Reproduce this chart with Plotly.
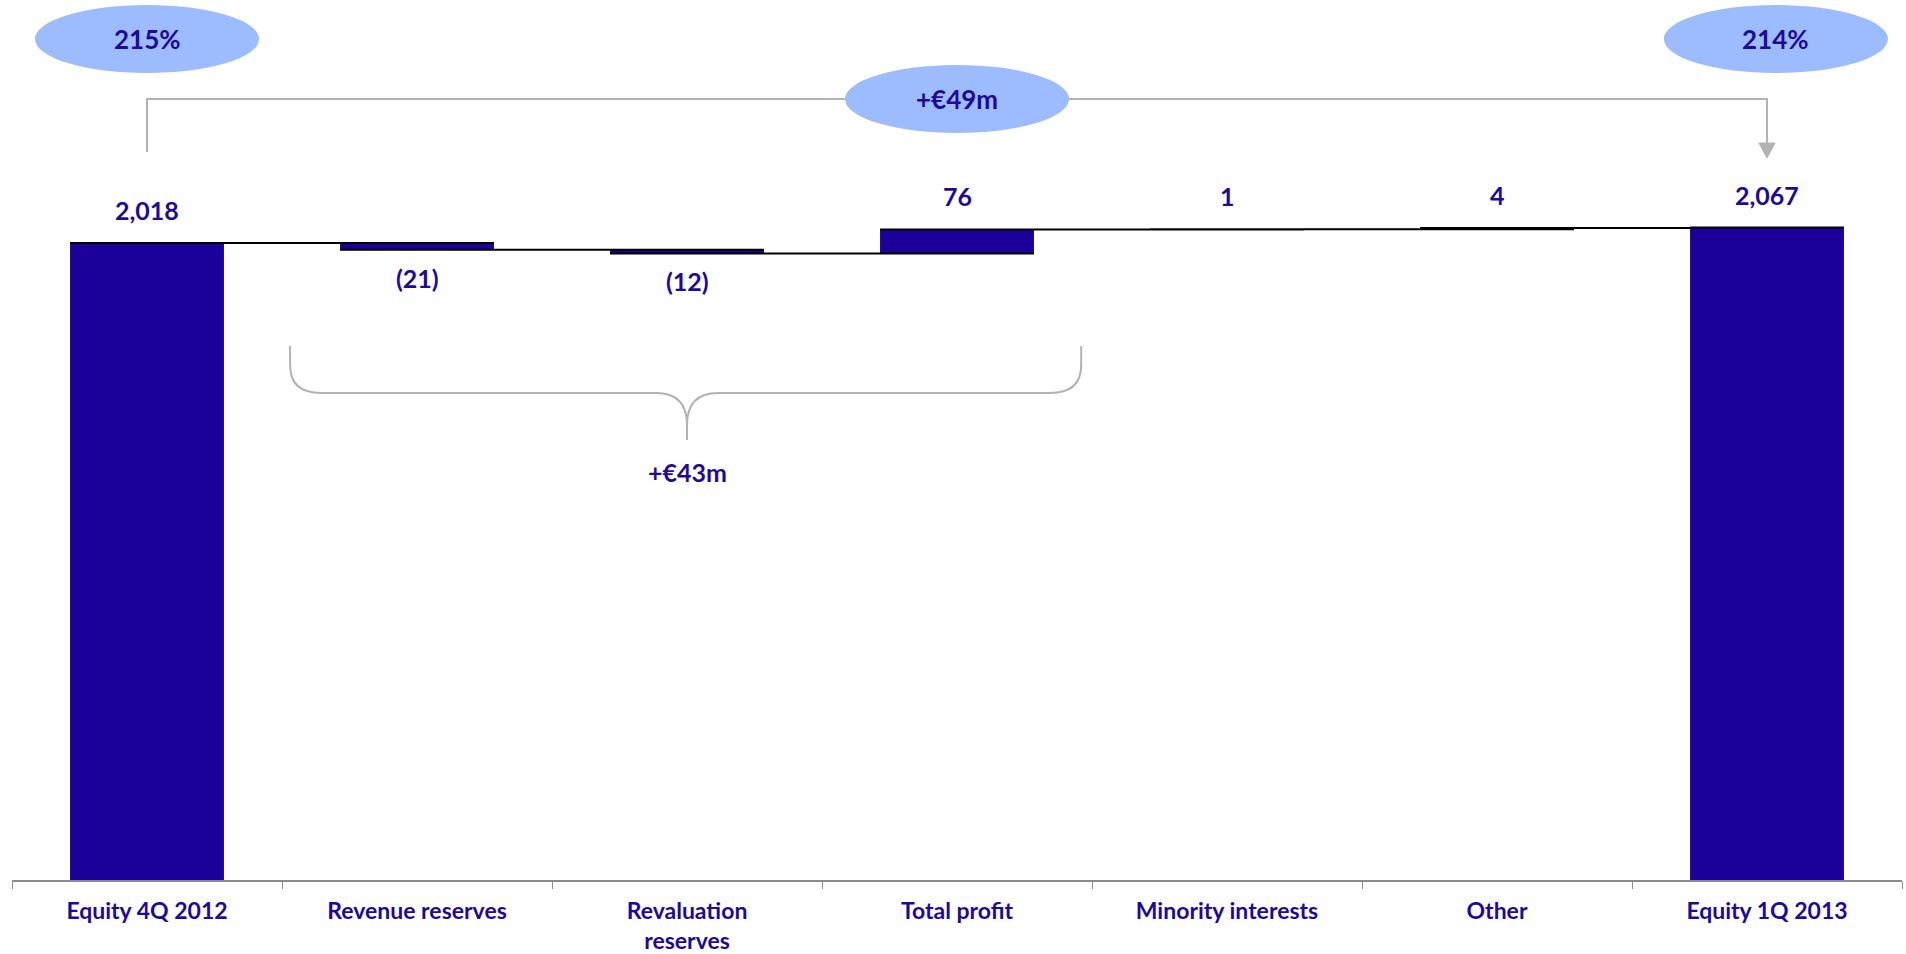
import plotly.graph_objects as go

# Equity bridge 4Q 2012 -> 1Q 2013 (EUR m)
categories = ["Equity 4Q 2012", "Revenue reserves", "Revaluation<br>reserves",
              "Total profit", "Minority interests", "Other", "Equity 1Q 2013"]
values = [2018, -21, -12, 76, 1, 4, 2067]
measures = ["absolute", "relative", "relative", "relative", "relative", "relative", "absolute"]
ratio_labels = ["215%", "214%"]
bridge_label = "+€49m"
brace_label = "+€43m"

BAR = "#1C0099"
TEXT = "#1E0A96"
BUBBLE = "#9DBBFF"
GREY = "#B3B3B3"
FONT = "Lato, 'Open Sans', sans-serif"

W, H = 1906, 954
M_L, M_R, M_T, M_B = 12, 4, 0, 74
PLOT_H = H - M_T - M_B
N = len(categories)


def fmt(v, measure):
    if measure == "relative" and v < 0:
        return f"({-v:,})"
    return f"{v:,}"


def xp(i):
    """category index -> paper x"""
    return (i + 0.5) / N


def yp(px):
    """pixels from top of plot area -> paper y"""
    return 1 - px / PLOT_H


fig = go.Figure(go.Waterfall(
    x=categories,
    y=values,
    measure=measures,
    increasing=dict(marker=dict(color=BAR)),
    decreasing=dict(marker=dict(color=BAR)),
    totals=dict(marker=dict(color=BAR)),
    connector=dict(mode="spanning", line=dict(color="#000000", width=2)),
    hoverinfo="skip",
))

# value labels at the end of each bar
annotations = []
running = 0
for i, (v, m) in enumerate(zip(values, measures)):
    if m == "absolute":
        running = v
        shift = 33
    else:
        running += v
        shift = 33 if v >= 0 else -28
    annotations.append(dict(
        x=i, y=running, xref="x", yref="y", text=f"<b>{fmt(v, m)}</b>",
        showarrow=False, yshift=shift, xanchor="center", yanchor="middle",
        font=dict(family=FONT, size=25, color=TEXT),
    ))

shapes = []

# bridge line from first to last bar with an arrowhead
x0, x6 = xp(0), xp(6)
shapes.append(dict(type="path", xref="paper", yref="paper",
                   path=f"M {x0},{yp(152)} L {x0},{yp(99)} L {x6},{yp(99)} L {x6},{yp(144)}",
                   line=dict(color=GREY, width=2)))
dx = 8 / 1890
shapes.append(dict(type="path", xref="paper", yref="paper",
                   path=f"M {x6 - dx},{yp(143)} L {x6 + dx},{yp(143)} L {x6},{yp(158)} Z",
                   fillcolor=GREY, line=dict(color=GREY, width=1)))

# ratio bubbles above the two equity bars and the bridge bubble
bubbles = [(0.0, 39, ratio_labels[0]), (6.033, 39, ratio_labels[1]), (3.0, 99, bridge_label)]
half_w, half_h = 112 / 1890, 34 / PLOT_H
for xi, yc, label in bubbles:
    xc = xp(xi)
    shapes.append(dict(type="circle", xref="paper", yref="paper",
                       x0=xc - half_w, x1=xc + half_w,
                       y0=yp(yc) - half_h, y1=yp(yc) + half_h,
                       fillcolor=BUBBLE, line=dict(width=0), layer="above"))
    annotations.append(dict(x=xc, y=yp(yc), xref="paper", yref="paper",
                            xanchor="center", yanchor="middle",
                            text=f"<b>{label}</b>", showarrow=False,
                            font=dict(family=FONT, size=26, color=TEXT)))

# curly brace grouping revenue reserves, revaluation reserves and total profit
a, b, c = xp(0.53), xp(3.46), xp(2.0)
r = 31 / 1890
top, mid, tip = 346, 393, 440
brace = (
    f"M {a},{yp(top)} L {a},{yp(365)} Q {a},{yp(mid)} {a + r},{yp(mid)} "
    f"L {c - r},{yp(mid)} Q {c},{yp(mid)} {c},{yp(425)} L {c},{yp(tip)} "
    f"M {c},{yp(425)} Q {c},{yp(mid)} {c + r},{yp(mid)} "
    f"L {b - r},{yp(mid)} Q {b},{yp(mid)} {b},{yp(365)} L {b},{yp(top)}"
)
shapes.append(dict(type="path", xref="paper", yref="paper", path=brace,
                   line=dict(color=GREY, width=2)))
annotations.append(dict(x=c, y=yp(472), xref="paper", yref="paper",
                        xanchor="center", yanchor="middle",
                        text=f"<b>{brace_label}</b>", showarrow=False,
                        font=dict(family=FONT, size=25, color=TEXT)))

fig.update_layout(
    width=W, height=H, autosize=False,
    margin=dict(l=M_L, r=M_R, t=M_T, b=M_B, autoexpand=False),
    paper_bgcolor="white", plot_bgcolor="white",
    showlegend=False,
    waterfallgap=0.43,
    shapes=shapes,
    annotations=annotations,
    xaxis=dict(
        type="category", range=[-0.5, N - 0.5], automargin=False,
        showline=True, linecolor="#8C8C8C", linewidth=2,
        ticks="outside", tickson="boundaries", ticklen=7,
        tickcolor="#8C8C8C", tickwidth=1,
        ticklabelstandoff=9,
        tickfont=dict(family=FONT, size=23, color=TEXT, weight=700),
        showgrid=False, zeroline=False, fixedrange=True,
    ),
    yaxis=dict(range=[0, 2788], visible=False, showgrid=False,
               zeroline=False, fixedrange=True, automargin=False),
)

fig.write_html("out.html")
